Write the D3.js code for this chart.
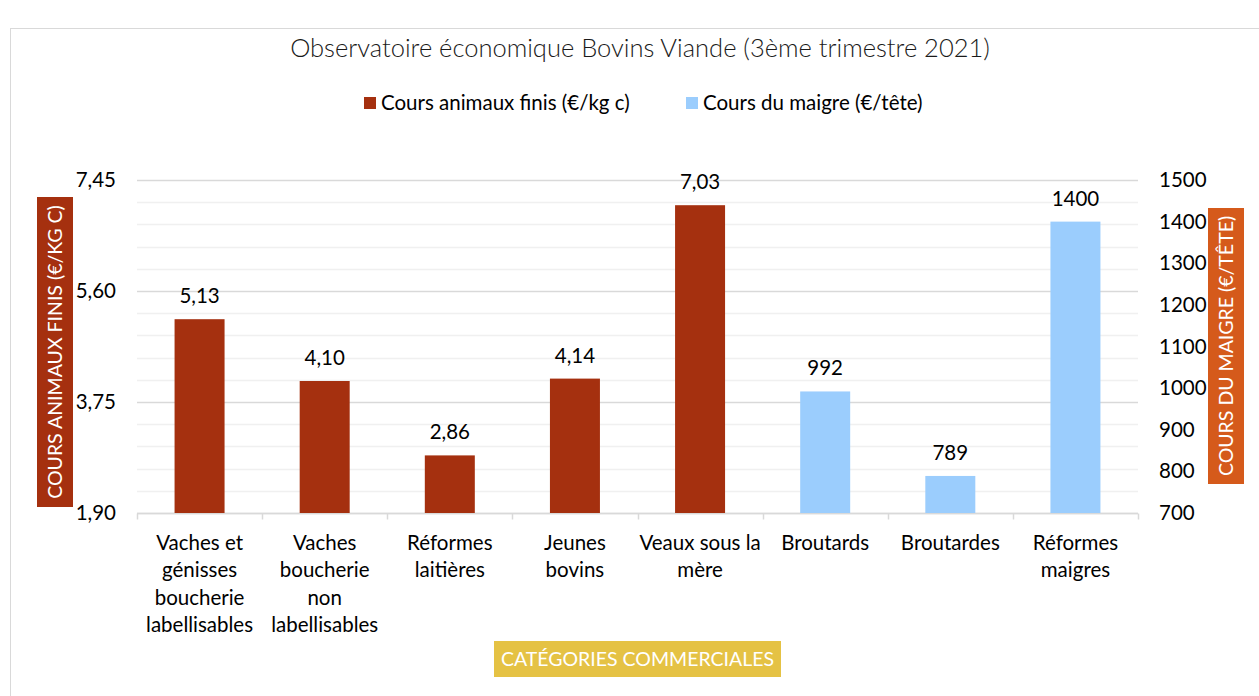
<!DOCTYPE html>
<html>
<head>
<meta charset="utf-8">
<script src="https://cdn.jsdelivr.net/npm/d3@7"></script>
<style>
  body { margin: 0; background: #fff; }
  svg text { font-family: Lato, "Open Sans", sans-serif; }
</style>
</head>
<body>
<svg id="chart" width="1259" height="696"></svg>
<script>
// data
var categories = [
  ["Vaches et", "génisses", "boucherie", "labellisables"],
  ["Vaches", "boucherie", "non", "labellisables"],
  ["Réformes", "laitières"],
  ["Jeunes", "bovins"],
  ["Veaux sous la", "mère"],
  ["Broutards"],
  ["Broutardes"],
  ["Réformes", "maigres"]
];
var finisValues = [5.13, 4.10, 2.86, 4.14, 7.03, null, null, null];
var maigreValues = [null, null, null, null, null, 992, 789, 1400];
var leftTicks = [1.90, 3.75, 5.60, 7.45];
var rightTicks = [700, 800, 900, 1000, 1100, 1200, 1300, 1400, 1500];

var svg = d3.select("#chart");
var width = 1259, height = 696;
var margin = { top: 180, right: 121, bottom: 183, left: 137 };
var red = "#a5300f", blue = "#9bcdfd";
var fs = "20.5px";

// chart frame
svg.append("rect")
  .attr("x", 10.5).attr("y", 28.5)
  .attr("width", 1260).attr("height", 700)
  .attr("fill", "none").attr("stroke", "#d9d9d9");

var x = d3.scaleBand()
  .domain(d3.range(categories.length))
  .range([margin.left, width - margin.right])
  .paddingInner(0).paddingOuter(0);
var yL = d3.scaleLinear().domain([1.90, 7.45]).range([height - margin.bottom, margin.top]);
var yR = d3.scaleLinear().domain([700, 1500]).range([height - margin.bottom, margin.top]);

// gridlines: minor every 0.37, major every 1.85
var minor = d3.range(0, 16).map(i => 1.90 + i * 0.37);
svg.append("g").selectAll("line")
  .data(minor)
  .enter().append("line")
  .attr("x1", margin.left).attr("x2", width - margin.right)
  .attr("y1", d => Math.round(yL(d)) + 0.5).attr("y2", d => Math.round(yL(d)) + 0.5)
  .attr("stroke", (d, i) => i % 5 === 0 ? "#d9d9d9" : "#f0f0f0")
  .attr("stroke-width", 1.5);

// bottom axis line and category ticks
var bottomY = Math.round(yL(1.90)) + 0.5;
svg.append("line")
  .attr("x1", margin.left).attr("x2", width - margin.right)
  .attr("y1", bottomY).attr("y2", bottomY)
  .attr("stroke", "#d9d9d9").attr("stroke-width", 1.5);
svg.append("g").selectAll("line")
  .data(d3.range(categories.length + 1))
  .enter().append("line")
  .attr("x1", i => Math.round(margin.left + i * x.bandwidth()) + 0.5)
  .attr("x2", i => Math.round(margin.left + i * x.bandwidth()) + 0.5)
  .attr("y1", bottomY).attr("y2", bottomY + 6)
  .attr("stroke", "#d9d9d9").attr("stroke-width", 1.5);

// bars
var barW = 50;
svg.append("g").selectAll("rect")
  .data(finisValues.map((v, i) => ({ v: v, i: i })).filter(d => d.v != null))
  .enter().append("rect")
  .attr("x", d => x(d.i) + (x.bandwidth() - barW) / 2)
  .attr("y", d => yL(d.v))
  .attr("width", barW)
  .attr("height", d => yL(1.90) - yL(d.v))
  .attr("fill", red);
svg.append("g").selectAll("rect")
  .data(maigreValues.map((v, i) => ({ v: v, i: i })).filter(d => d.v != null))
  .enter().append("rect")
  .attr("x", d => x(d.i) + (x.bandwidth() - barW) / 2)
  .attr("y", d => yR(d.v))
  .attr("width", barW)
  .attr("height", d => yR(700) - yR(d.v))
  .attr("fill", blue);

// data labels
var fr = d3.format(".2f");
svg.append("g").selectAll("text")
  .data(finisValues.map((v, i) => ({ v: v, i: i })).filter(d => d.v != null))
  .enter().append("text")
  .attr("x", d => x(d.i) + x.bandwidth() / 2)
  .attr("y", d => yL(d.v) - 16)
  .attr("text-anchor", "middle")
  .attr("font-size", fs).attr("fill", "#000")
  .text(d => fr(d.v).replace(".", ","));
svg.append("g").selectAll("text")
  .data(maigreValues.map((v, i) => ({ v: v, i: i })).filter(d => d.v != null))
  .enter().append("text")
  .attr("x", d => x(d.i) + x.bandwidth() / 2)
  .attr("y", d => yR(d.v) - 16)
  .attr("text-anchor", "middle")
  .attr("font-size", fs).attr("fill", "#000")
  .text(d => d.v);

// left axis
var leftAxis = svg.append("g")
  .attr("transform", `translate(${margin.left - 21}, 0)`)
  .call(d3.axisLeft(yL).tickValues(leftTicks).tickSize(0).tickFormat(d => fr(d).replace(".", ",")));
leftAxis.select(".domain").remove();
leftAxis.selectAll("text").attr("font-size", fs).attr("fill", "#000").attr("x", 0);

// right axis
var rightAxis = svg.append("g")
  .attr("transform", `translate(${width - margin.right + 21}, 0)`)
  .call(d3.axisRight(yR).tickValues(rightTicks).tickSize(0).tickFormat(d3.format("d")));
rightAxis.select(".domain").remove();
rightAxis.selectAll("text").attr("font-size", fs).attr("fill", "#000").attr("x", 0);

// category labels
var catG = svg.append("g").selectAll("text")
  .data(categories)
  .enter().append("text")
  .attr("x", (d, i) => x(i) + x.bandwidth() / 2)
  .attr("y", bottomY + 36)
  .attr("text-anchor", "middle")
  .attr("font-size", fs).attr("fill", "#000");
catG.selectAll("tspan")
  .data(d => d)
  .enter().append("tspan")
  .attr("x", function () { return d3.select(this.parentNode).attr("x"); })
  .attr("dy", (d, j) => j === 0 ? 0 : 27.5)
  .text(d => d);

// axis title boxes
svg.append("rect").attr("x", 37).attr("y", 197).attr("width", 36).attr("height", 310).attr("fill", red);
svg.append("text")
  .attr("transform", `translate(62, ${(197 + 507) / 2}) rotate(-90)`)
  .attr("text-anchor", "middle").attr("font-size", "19.5px").attr("fill", "#fff")
  .text("COURS ANIMAUX FINIS (€/KG C)");

svg.append("rect").attr("x", 1208).attr("y", 208).attr("width", 36).attr("height", 276).attr("fill", "#d55a1b");
svg.append("text")
  .attr("transform", `translate(1233, ${(208 + 484) / 2}) rotate(-90)`)
  .attr("text-anchor", "middle").attr("font-size", "19.5px").attr("fill", "#fff")
  .text("COURS DU MAIGRE (€/TÊTE)");

svg.append("rect").attr("x", 494).attr("y", 641).attr("width", 287).attr("height", 36).attr("fill", "#e5c244");
svg.append("text")
  .attr("x", (494 + 781) / 2).attr("y", 666)
  .attr("text-anchor", "middle").attr("font-size", "19.5px").attr("fill", "#fff")
  .text("CATÉGORIES COMMERCIALES");

// title
svg.append("text")
  .attr("x", 640).attr("y", 57)
  .attr("text-anchor", "middle").attr("font-size", "25.5px").attr("font-weight", 300)
  .attr("fill", "#1a1a1a")
  .text("Observatoire économique Bovins Viande (3ème trimestre 2021)");

// legend
var legendItems = [
  { label: "Cours animaux finis (€/kg c)", color: red, x: 364 },
  { label: "Cours du maigre (€/tête)", color: blue, x: 686 }
];
var lg = svg.append("g").selectAll("g")
  .data(legendItems)
  .enter().append("g")
  .attr("transform", d => `translate(${d.x}, 97)`);
lg.append("rect").attr("width", 12).attr("height", 12).attr("fill", d => d.color);
lg.append("text")
  .attr("x", 17).attr("y", 13)
  .attr("font-size", fs).attr("fill", "#000")
  .text(d => d.label);
</script>
</body>
</html>
